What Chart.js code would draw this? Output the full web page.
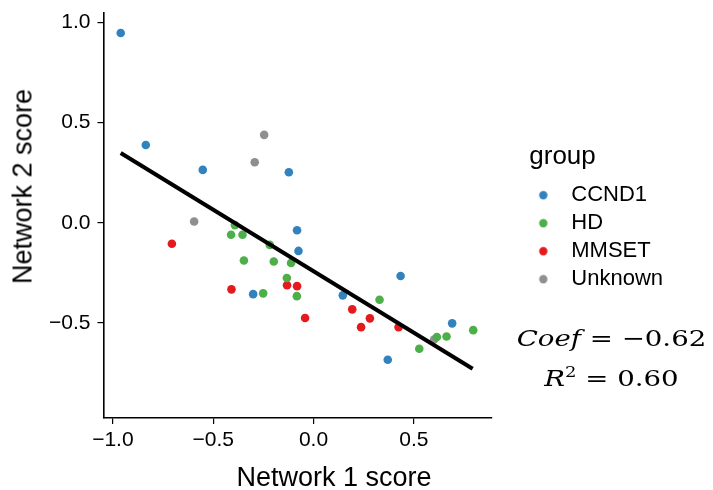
<!DOCTYPE html>
<html>
<head>
<meta charset="utf-8">
<script src="https://cdn.jsdelivr.net/npm/chart.js@4"></script>
<style>
	body { margin: 0; background: #fff; }
	#wrap { position: relative; width: 713px; height: 490px; }
	.axis-title {
		position: absolute; width: 300px; height: 27px; line-height: 27px;
		text-align: center; font-family: "Liberation Sans", Arial, sans-serif;
		font-size: 27px; color: #000; white-space: nowrap;
	}
	#xtitle { left: 184px; top: 464px; }
	#ytitle { left: -127px; top: 173px; transform: rotate(-90deg); }
	#stats {
		position: absolute; left: 510px; top: 318px; width: 203px;
		text-align: center; font-family: "DejaVu Serif", serif; font-size: 23px;
		color: #000;
	}
	#stats div { height: 40px; line-height: 40px; transform: scaleX(1.2); }
	#stats sup { font-size: 15px; line-height: 0; vertical-align: 0; position: relative; top: -9px; }
</style>
</head>
<body>
<div id="wrap">
	<canvas id="scatter-1" width="713" height="490"></canvas>
	<div class="axis-title" id="xtitle">Network 1 score</div>
	<div class="axis-title" id="ytitle">Network 2 score</div>
	<div id="stats">
		<div><i>Coef</i> = −0.62</div>
		<div><i>R</i><sup>2</sup> = 0.60</div>
	</div>
</div>
<script>
const groups = ["CCND1", "HD", "MMSET", "Unknown"];
const groupColors = ["#3282bd", "#4daf4a", "#e41a1c", "#8f8f8f"];

// network 1 / network 2 scores per group
const ccnd1X = [-0.961, -0.836, -0.552, -0.123, -0.082, -0.075, -0.301, 0.146, 0.434, 0.370, 0.691];
const ccnd1Y = [0.948, 0.388, 0.264, 0.252, -0.038, -0.141, -0.357, -0.363, -0.266, -0.685, -0.503];
const hdX = [-0.392, -0.411, -0.354, -0.218, -0.347, -0.198, -0.112, -0.133, -0.083, -0.251, 0.329, 0.527, 0.615, 0.663, 0.796];
const hdY = [-0.012, -0.060, -0.060, -0.111, -0.189, -0.194, -0.201, -0.276, -0.367, -0.353, -0.385, -0.630, -0.571, -0.569, -0.537];
const mmsetX = [-0.706, -0.409, -0.132, -0.082, -0.042, 0.193, 0.281, 0.237, 0.424];
const mmsetY = [-0.105, -0.333, -0.312, -0.317, -0.476, -0.433, -0.478, -0.522, -0.522];
const unknownX = [-0.246, -0.293, -0.595, 0.601];
const unknownY = [0.439, 0.302, 0.006, -0.584];

// regression line end points
const fitX = [-0.961, 0.793];
const fitY = [0.348, -0.730];

const xTicks = [-1.0, -0.5, 0.0, 0.5];
const yTicks = [-0.5, 0.0, 0.5, 1.0];

function pairUp(xs, ys) {
	return xs.map((x, i) => ({ x: x, y: ys[i] }));
}

function fmtTick(v) {
	return (v < 0 ? "\u2212" : "") + Math.abs(v).toFixed(1);
}

// legend key: dot sitting left of centre so the label gap matches
function legendDot(color) {
	const c = document.createElement("canvas");
	c.width = 26;
	c.height = 10;
	const g = c.getContext("2d");
	g.fillStyle = color;
	g.beginPath();
	g.arc(8.5, 5, 4.2, 0, Math.PI * 2);
	g.fill();
	return c;
}

// push the legend a bit away from the panel
const legendGap = {
	id: "legendGap",
	afterLayout(chart) {
		chart.legend.left += 38;
		chart.legend.right += 38;
	},
};

const groupX = [ccnd1X, hdX, mmsetX, unknownX];
const groupY = [ccnd1Y, hdY, mmsetY, unknownY];

const datasets = groups.map((g, i) => ({
	label: g,
	data: pairUp(groupX[i], groupY[i]),
	backgroundColor: groupColors[i],
	borderWidth: 0,
	pointRadius: 4.3,
	pointHoverRadius: 4.3,
}));

datasets.push({
	type: "line",
	label: "fit",
	data: pairUp(fitX, fitY),
	borderColor: "#000",
	borderWidth: 4,
	pointRadius: 0,
	fill: false,
	order: -1,
});

Chart.defaults.font.family = '"Liberation Sans", Arial, sans-serif';
Chart.defaults.color = "#000";

const axisBase = {
	type: "linear",
	grid: { drawOnChartArea: false, drawTicks: true, tickLength: 6, color: "#000", lineWidth: 1.2 },
	border: { display: true, color: "#000", width: 1.6 },
	ticks: { font: { size: 21, lineHeight: 1.0 }, color: "#000", callback: fmtTick },
};

const config_s1 = {
	type: "scatter",
	data: { datasets: datasets },
	options: {
		responsive: false,
		animation: false,
		events: [],
		layout: { padding: { left: 42, right: 78, top: 13, bottom: 33 } },
		scales: {
			x: {
				...axisBase,
				min: -1.047,
				max: 0.886,
				ticks: { ...axisBase.ticks, padding: 6 },
				afterBuildTicks: (s) => { s.ticks = xTicks.map((v) => ({ value: v })); },
			},
			y: {
				...axisBase,
				min: -0.976,
				max: 1.048,
				ticks: { ...axisBase.ticks, padding: 7 },
				afterBuildTicks: (s) => { s.ticks = yTicks.map((v) => ({ value: v })); },
				afterFit: (s) => { s.paddingTop = 0; s.paddingBottom = 0; },
			},
		},
		plugins: {
			tooltip: { enabled: false },
			legend: {
				position: "right",
				align: "start",
				title: { display: true, text: "group", position: "start", font: { size: 26 }, color: "#000", padding: { top: 131, bottom: 3 } },
				labels: {
					usePointStyle: true,
					pointStyleWidth: 25,
					boxHeight: 8,
					padding: 6,
					font: { size: 22 },
					color: "#000",
					filter: (item) => groups.includes(item.text),
					generateLabels: (chart) => {
						const items = Chart.defaults.plugins.legend.labels.generateLabels(chart);
						items.forEach((it) => {
							const idx = groups.indexOf(it.text);
							if (idx >= 0) it.pointStyle = legendDot(groupColors[idx]);
						});
						return items;
					},
				},
			},
		},
	},
	plugins: [legendGap],
};

new Chart(document.getElementById("scatter-1"), config_s1);
</script>
</body>
</html>
